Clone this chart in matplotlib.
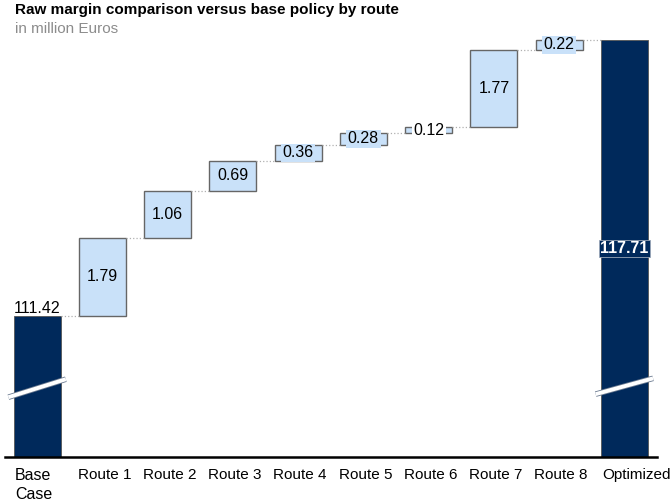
import matplotlib.pyplot as plt
import matplotlib.patheffects as pe
import numpy as np

plt.rcParams['font.family'] = ['Liberation Sans', 'DejaVu Sans']

categories = ['Base\nCase', 'Route 1', 'Route 2', 'Route 3', 'Route 4', 'Route 5',
              'Route 6', 'Route 7', 'Route 8', 'Optimized']
base_value = 111.42
deltas = [1.79, 1.06, 0.69, 0.36, 0.28, 0.12, 1.77, 0.22]
optimized_value = 117.71

navy = '#00295b'
light = '#c9e1f9'
y_floor = 108.207
y_top = 117.94

fig = plt.figure(figsize=(6.72, 5.04), dpi=100)
W, H = 672, 504
ax = fig.add_axes([4.5 / W, (H - 457) / H, 652.5 / W, (457 - 30) / H])
ax.set_xlim(-0.5, 9.5)
ax.set_ylim(y_floor, y_top)
width = 0.72
val_size = 11.5

x = np.arange(len(categories))
running = base_value + np.concatenate([[0], np.cumsum(deltas)])

# totals
ax.bar(x[0], base_value, width, color=navy, edgecolor='#555555', linewidth=0.6)
ax.bar(x[-1], optimized_value, width, color=navy, edgecolor='#555555', linewidth=0.6)

# floating bars
ax.bar(x[1:-1], deltas, width, bottom=running[:-1], color=light,
       edgecolor='#666666', linewidth=1.0)

# connectors
for i in range(len(categories) - 1):
    ax.plot([x[i] + width / 2, x[i + 1] - width / 2], [running[min(i, len(running) - 1)]] * 2,
            color='#b0b0b0', linestyle=':', linewidth=0.9)

# labels
ax.text(x[0], base_value, f'{base_value:.2f}', ha='center', va='bottom', fontsize=val_size)
for i, d in enumerate(deltas):
    mid = running[i] + d / 2
    face = 'white' if d < 0.2 else light
    ax.text(x[i + 1], mid, f'{d:.2f}', ha='center', va='center', fontsize=val_size,
            bbox=dict(boxstyle='square,pad=0.1', facecolor=face, edgecolor='none'))
ax.text(x[-1], (y_floor + optimized_value) / 2, f'{optimized_value:.2f}',
        ha='center', va='center', fontsize=val_size, color='white', fontweight='bold',
        bbox=dict(boxstyle='square,pad=0.08', facecolor=navy, edgecolor='#9aa7b8', linewidth=0.6))

# axis break marks
for xi, (y0, y1) in [(x[0], (109.57, 109.98)), (x[-1], (109.64, 110.0))]:
    ax.plot([xi - 0.44, xi + 0.44], [y0, y1], color='white', linewidth=2.8,
            solid_capstyle='butt', clip_on=False,
            path_effects=[pe.Stroke(linewidth=4.0, foreground='#6b7a90'), pe.Normal()])

# category labels: first and last sit at the bar's left edge
for i, cat in enumerate(categories):
    if i in (0, len(categories) - 1):
        ax.annotate(cat, xy=(x[i] - width / 2, 0), xycoords=('data', 'axes fraction'),
                    xytext=(1, -8), textcoords='offset points', ha='left', va='top',
                    fontsize=11.5 if i == 0 else 11, linespacing=1.3)
    else:
        ax.annotate(cat, xy=(x[i], 0), xycoords=('data', 'axes fraction'),
                    xytext=(1.5, -8), textcoords='offset points', ha='center', va='top',
                    fontsize=11)

for s in ['top', 'right', 'left']:
    ax.spines[s].set_visible(False)
ax.spines['bottom'].set_linewidth(1.8)
ax.spines['bottom'].set_color('black')
ax.set_xticks([])
ax.set_yticks([])

fig.text(15 / W, 1 - 10 / H, 'Raw margin comparison versus base policy by route',
         fontsize=11, fontweight='bold', va='center', ha='left')
fig.text(15 / W, 1 - 29 / H, 'in million Euros', fontsize=11, color='#8c8c8c',
         va='center', ha='left')

fig.savefig('out.png', dpi=100)
